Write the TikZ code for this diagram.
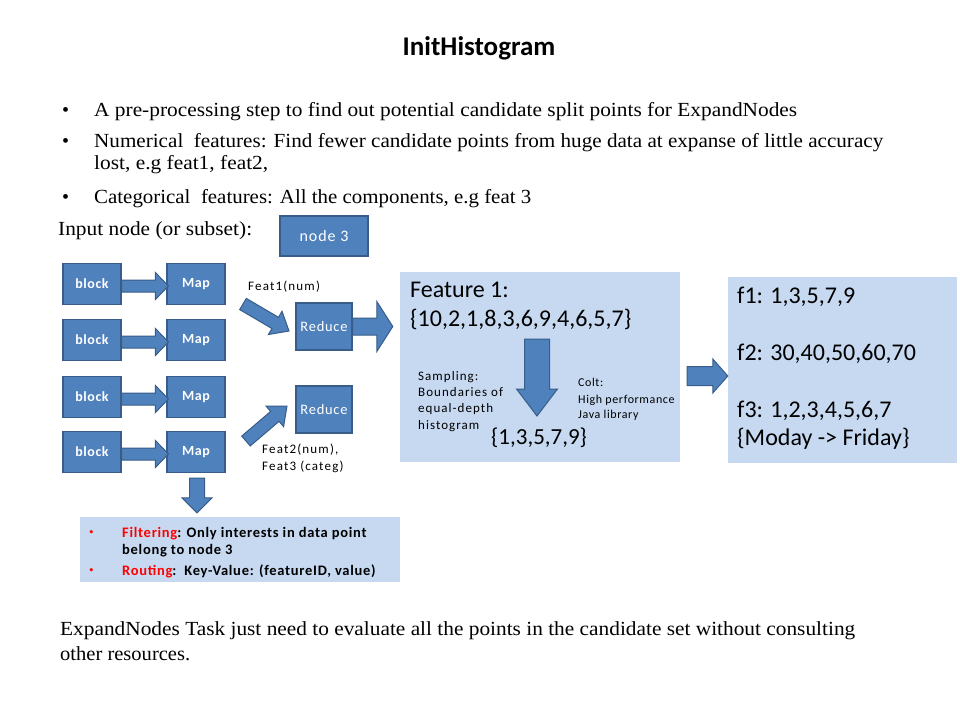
\documentclass[tikz,border=0pt]{standalone}
\usepackage{fontspec}
\usepackage{graphicx}
\setmainfont{Liberation Serif}
\newfontfamily\carl{Carlito}
\usetikzlibrary{calc}
\definecolor{dblue}{HTML}{4F81BD}
\definecolor{bdark}{HTML}{385D8A}
\definecolor{lblue}{HTML}{C6D9F1}
\definecolor{ared}{HTML}{FF0000}
\tikzset{
  bluebox/.style={draw=bdark, fill=dblue, line width=1.2pt, text=white, inner sep=0pt},
  lightbox/.style={fill=lblue, inner sep=0pt},
  barrow/.style={draw=bdark, fill=dblue, line width=1pt, line join=miter},
  blockfont/.style={font=\carl\bfseries\fontsize{14}{16}\selectfont\addfontfeature{LetterSpace=4}},
  redfont/.style={font=\carl\fontsize{14.5}{16}\selectfont\addfontfeature{LetterSpace=5}},
  smallfont/.style={font=\carl\fontsize{13}{16}\selectfont\addfontfeature{LetterSpace=9}},
  sampfont/.style={font=\carl\fontsize{13}{16}\selectfont\addfontfeature{LetterSpace=8}},
  coltfont/.style={font=\carl\fontsize{12}{15}\selectfont\addfontfeature{LetterSpace=5}},
  bigfont/.style={font=\carl\fontsize{24}{29}\selectfont},
  filtfont/.style={font=\carl\bfseries\fontsize{14.5}{17}\selectfont\addfontfeature{LetterSpace=5}},
  serif/.style={font=\fontsize{20}{23}\selectfont},
  txt/.style={anchor=base west, inner sep=0pt},
}
\newcommand\wline[2]{\resizebox{#1pt}{\height}{#2}}
\newcommand\blockarr[5]{%
  \coordinate (ba-s) at #1; \coordinate (ba-e) at #2;
  \coordinate (ba-n) at ($(ba-e)!#5!(ba-s)$);
  \draw[barrow] ($(ba-s)!#3!90:(ba-e)$) -- ($(ba-n)!#3!-90:(ba-s)$) -- ($(ba-n)!#4!-90:(ba-s)$) -- (ba-e) -- ($(ba-n)!#4!90:(ba-s)$) -- ($(ba-n)!#3!90:(ba-s)$) -- ($(ba-s)!#3!-90:(ba-e)$) -- cycle;}
\begin{document}
\begin{tikzpicture}[x=1pt,y=-1pt]
\useasboundingbox (0,0) rectangle (960,720);
\fill[white] (0,0) rectangle (960,720);
% title
\node[anchor=base, inner sep=0pt, font=\carl\bfseries\fontsize{27}{32}\selectfont] (title) at (479,55) {InitHistogram};
% bullets
\node[txt, serif] (d1) at (62,116) {•};
\node[txt, serif] (l1) at (94,116) {\wline{703}{A pre-processing step to find out potential candidate split points for ExpandNodes}};
\node[txt, serif] (d2) at (62,147) {•};
\node[txt, serif] (l2) at (94,147) {\wline{789}{Numerical\ \ features: Find fewer candidate points from huge data at expanse of little accuracy}};
\node[txt, serif] (l3) at (94,169) {\wline{174}{lost, e.g feat1, feat2,}};
\node[txt, serif] (d3) at (62,203) {•};
\node[txt, serif] (l4) at (94,203) {\wline{437}{Categorical\ \ features: All the components, e.g feat 3}};
\node[txt, serif] (l5) at (58,235) {\wline{194}{Input node (or subset):}};
% node 3
\node[bluebox, minimum width=88pt, minimum height=40pt, font=\carl\fontsize{16}{18}\selectfont\addfontfeature{LetterSpace=6}] (n3) at (324,236) {node 3};
% blocks and maps
\foreach \i/\y in {1/284,2/340,3/397,4/452}{
  \node[bluebox, blockfont, minimum width=58pt, minimum height=41pt] (b\i) at (92,\y) {block};
  \node[bluebox, blockfont, minimum width=58pt, minimum height=41pt] (m\i) at (196,\y) {Map};
}
\foreach \i in {1,2,3,4}{
  \blockarr{($(b\i.east)+(0,2)$)}{($(m\i.west)+(2,2)$)}{6pt}{13.5pt}{13pt}
}
% reduce
\node[bluebox, redfont, minimum width=56pt, minimum height=47pt] (r1) at (324,326.5) {Reduce};
\node[bluebox, redfont, minimum width=56pt, minimum height=47pt] (r2) at (324,409.5) {Reduce};
\node[txt, smallfont] (f1l) at (248,290) {Feat1(num)};
\node[txt, smallfont] (f2l) at (262,453) {Feat2(num),};
\node[txt, smallfont] (f3l) at (262,470) {Feat3 (categ)};
\coordinate (g1s) at (243,304);
\coordinate (g1e) at (289,331);
\coordinate (g2s) at (246,441);
\coordinate (g2e) at (287,406);
\blockarr{(g1s)}{(g1e)}{6.5pt}{13.5pt}{16pt}
\blockarr{(g2s)}{(g2e)}{6.5pt}{13.5pt}{16pt}
% feature box
\node[lightbox, minimum width=280pt, minimum height=190pt] (feat) at (540,367) {};
\coordinate (t1) at ($(feat.west |- r1.east)+(-7,0)$);
\blockarr{(r1.east)}{(t1)}{8.5pt}{25pt}{16pt}
\node[txt, bigfont] (ft1) at (410,297) {Feature 1:};
\node[txt, bigfont] (ft2) at (410,326) {\{10,2,1,8,3,6,9,4,6,5,7\}};
\coordinate (d1s) at (537,339);
\coordinate (d1e) at (537,416);
\blockarr{(d1s)}{(d1e)}{12.5pt}{20.5pt}{27pt}
\node[txt, sampfont] (s1) at (418,380) {Sampling:};
\node[txt, sampfont] (s2) at (418,396) {Boundaries of};
\node[txt, sampfont] (s3) at (418,412) {equal-depth};
\node[txt, sampfont] (s4) at (418,429) {histogram};
\node[txt, coltfont] (c1) at (578,386) {Colt:};
\node[txt, coltfont] (c2) at (578,403) {High performance};
\node[txt, coltfont] (c3) at (578,418) {Java library};
\node[txt, font=\carl\fontsize{23}{27}\selectfont] (res) at (491,444) {\{1,3,5,7,9\}};
% f box
\node[lightbox, minimum width=229pt, minimum height=186pt] (fbox) at (842.5,370) {};
\coordinate (fa) at (687,376);
\blockarr{(fa)}{(fbox.west |- fa)}{9.5pt}{17pt}{15pt}
\node[txt, bigfont] (o1) at (737,303) {f1: 1,3,5,7,9};
\node[txt, bigfont] (o2) at (737,360) {f2: 30,40,50,60,70};
\node[txt, bigfont] (o3) at (737,417) {f3: 1,2,3,4,5,6,7};
\node[txt, bigfont] (o4) at (737,445) {\{Moday -> Friday\}};
% filter box
\node[lightbox, minimum width=320pt, minimum height=65pt] (filt) at (240,549.5) {};
\coordinate (ua) at ($(m4.south)+(1,5)$);
\coordinate (ub) at ($(filt.north -| ua)+(0,-4)$);
\blockarr{(ua)}{(ub)}{7.5pt}{15pt}{15pt}
\node[txt, font=\fontsize{13}{15}\selectfont, text=ared] (p1) at (89,536) {•};
\node[txt, filtfont] (q1) at (122,537) {\textcolor{ared}{Filtering}: Only interests in data point};
\node[txt, filtfont] (q2) at (122,554) {belong to node 3};
\node[txt, font=\fontsize{13}{15}\selectfont, text=ared] (p3) at (89,574) {•};
\node[txt, filtfont] (q3) at (122,575) {\textcolor{ared}{Routing}:\ \ Key-Value: (featureID, value)};
% bottom text
\node[txt, serif] (e1) at (60,635) {\wline{795}{ExpandNodes Task just need to evaluate all the points in the candidate set without consulting}};
\node[txt, serif] (e2) at (60,660) {\wline{130}{other resources.}};
\end{tikzpicture}
\end{document}
